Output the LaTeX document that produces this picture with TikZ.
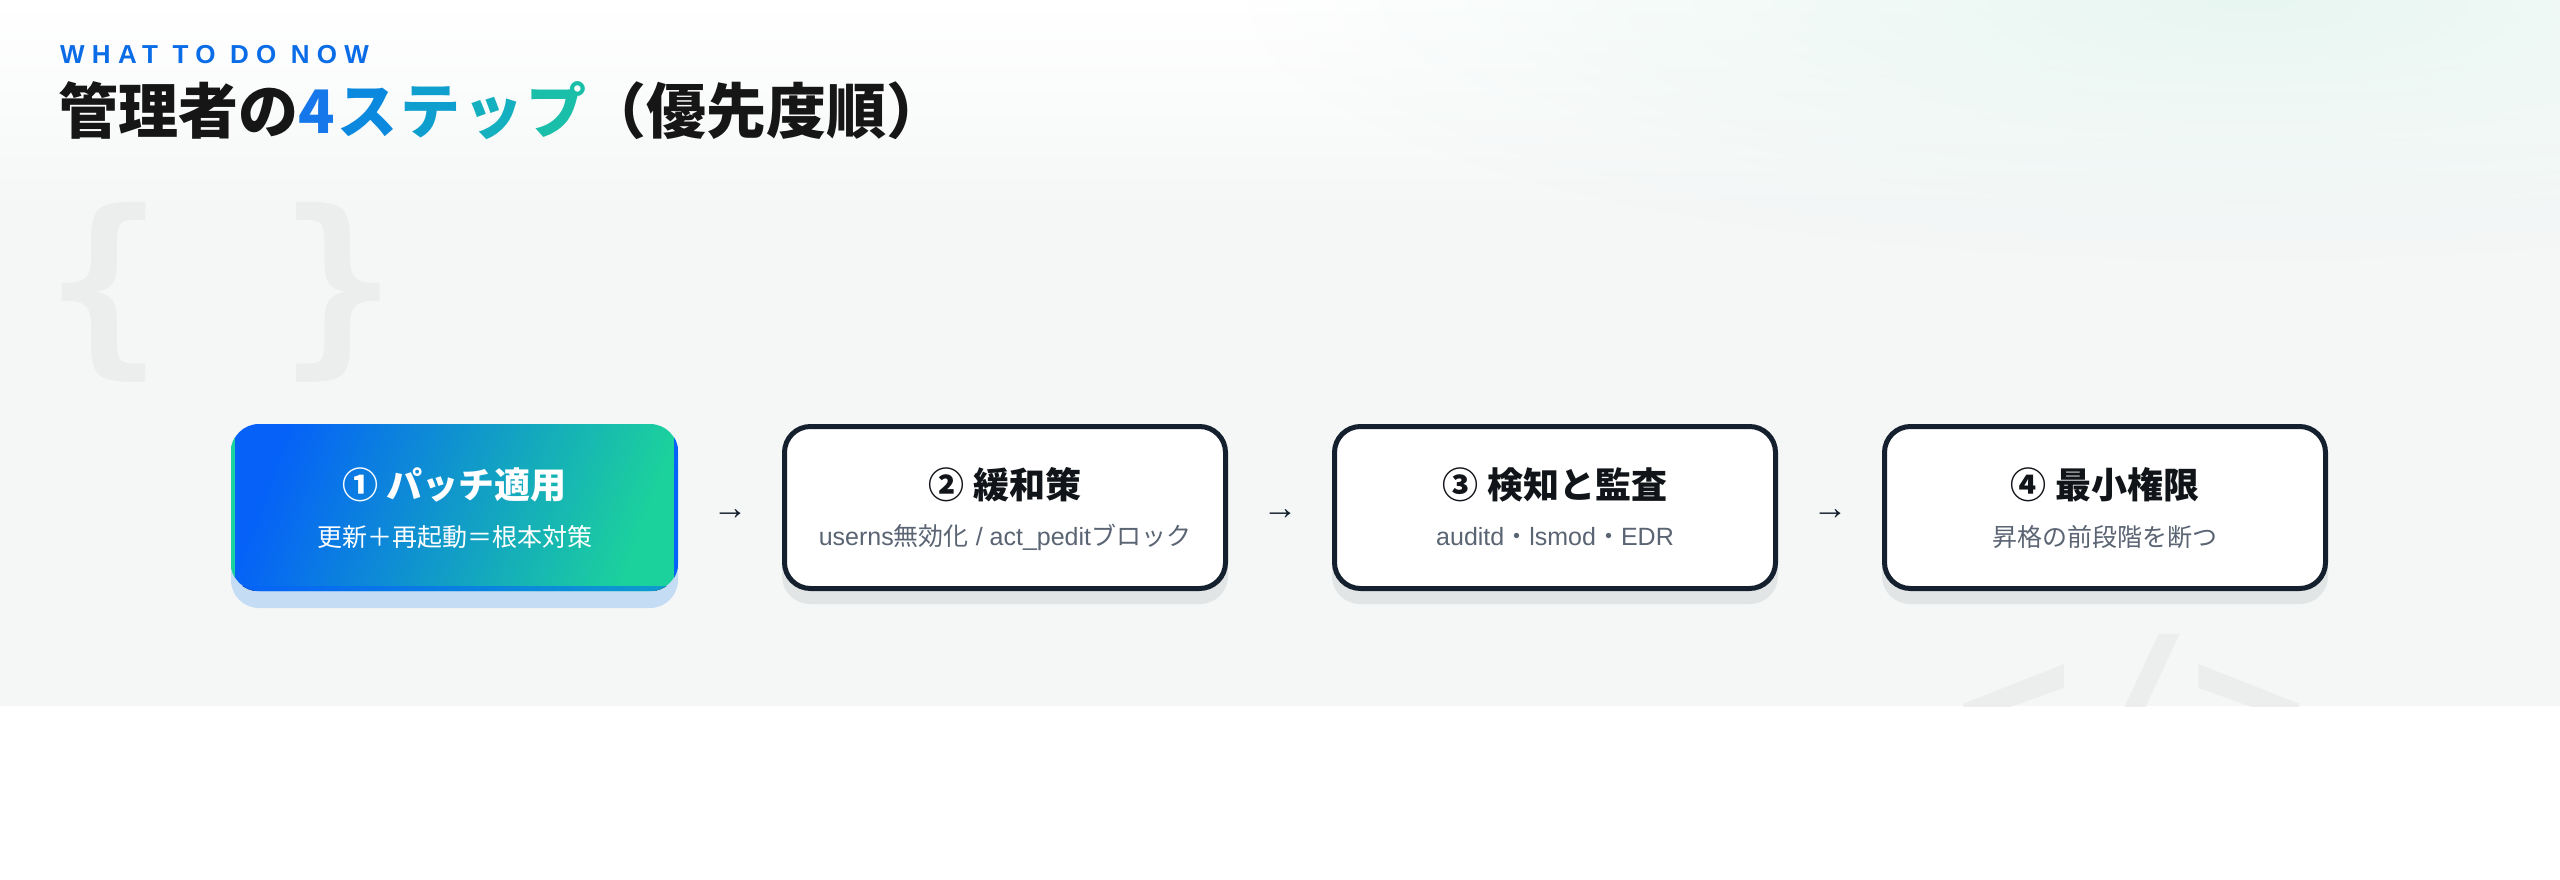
\documentclass[tikz,border=0pt]{standalone}
\usepackage{fontspec}
\setmainfont{Liberation Sans}
\newfontfamily\jp{Noto Sans CJK JP}
\newfontfamily\lat{Liberation Sans}
\newfontfamily\wmfont{DejaVu Sans Mono}
\usetikzlibrary{fadings,calc}
\tikzfading[name=softfade, inner color=transparent!0, outer color=transparent!100]
\definecolor{ink}{HTML}{15202E}
\definecolor{ttlink}{HTML}{111418}
\definecolor{sub}{HTML}{5A6473}
\definecolor{gA}{HTML}{0561F8}
\definecolor{gM}{HTML}{0E9DCB}
\definecolor{gB}{HTML}{1CD29C}
\definecolor{shBlue}{HTML}{C5DCF5}
\definecolor{shGray}{HTML}{E1E5E6}
\definecolor{bgG}{HTML}{F5F7F7}
\definecolor{tint}{HTML}{E8F6F1}
\definecolor{wmc}{HTML}{ECEEEE}
\definecolor{wtd}{HTML}{0A6CE6}
\definecolor{hd}{HTML}{161616}
\definecolor{tFour}{HTML}{1677EA}
\definecolor{tS}{HTML}{0A89DE}
\definecolor{tT}{HTML}{0E9FCF}
\definecolor{tX}{HTML}{14B0BF}
\definecolor{tP}{HTML}{1ABFA9}
\begin{document}
\begin{tikzpicture}[x=1pt,y=-1pt,
  stepbox/.style={draw=ink, line width=5pt, fill=white, rounded corners=26pt, minimum width=441pt, minimum height=162pt, inner sep=0pt},
  hotbox/.style={rounded corners=28pt, minimum width=447pt, minimum height=167pt, inner sep=0pt, left color=gA, middle color=gM, right color=gB, shading angle=70},
  ttl/.style={font={\jp\bfseries\fontsize{36pt}{42pt}\selectfont}, text=ttlink, inner sep=0pt},
  subt/.style={font={\jp\fontsize{25pt}{30pt}\selectfont}, text=sub, inner sep=0pt},
  arr/.style={font={\lat\fontsize{35pt}{38pt}\selectfont}, text=ink, inner sep=0pt},
  wm/.style={font={\wmfont\bfseries\fontsize{195pt}{200pt}\selectfont}, text=wmc, inner sep=0pt}]

\useasboundingbox (0,0) rectangle (2560,880);
\fill[white] (0,0) rectangle (2560,880);
\fill[bgG] (0,0) rectangle (2560,706);
\fill[top color=white, bottom color=bgG] (0,0) rectangle (2560,210);
\fill[tint, path fading=softfade] (2250,0) ellipse [x radius=1000, y radius=260];

% watermarks
\node[wm, anchor=base west] (wmbrace) at (45,350) {\{ \}};
\begin{scope}
  \clip (0,0) rectangle (2560,706);
  \node[wm, anchor=base] (wmcode) at (2132,776) {</>};
\end{scope}

% heading
\node[anchor=base west, inner sep=0pt, text=wtd, font={\lat\bfseries\fontsize{26pt}{30pt}\selectfont\addfontfeature{LetterSpace=28}}] (kicker) at (60,64) {WHAT TO DO NOW};
\node[anchor=base west, inner sep=0pt, text=hd, font={\jp\bfseries\fontsize{60pt}{70pt}\selectfont}] (title) at (58,134)
  {管理者の\textcolor{tFour}{4}\hspace{3pt}\textcolor{tS}{ス}\hspace{3pt}\textcolor{tT}{テ}\hspace{3pt}\textcolor{tX}{ッ}\hspace{3pt}\textcolor{tP}{プ}（優先度順）};

% step 1 (highlighted)
\fill[shBlue, rounded corners=28pt] (231,441) rectangle (678,608);
\node[hotbox] (s1) at (454.5,507.5) {};
\begin{scope}
  \clip[rounded corners=28pt] (s1.south west) rectangle (s1.north east);
  \fill[gB] (s1.north west) rectangle ([xshift=4pt]s1.south west);
  \fill[gA] ([xshift=-4pt]s1.north east) rectangle (s1.south east);
  \fill[left color=gA, right color=gM] ([yshift=5pt]s1.south west) rectangle (s1.south east);
\end{scope}
\node[ttl, text=white] (s1t) at (454.5,485) {① パッチ適用};
\node[subt, text=white] (s1s) at (454.5,537) {更新＋再起動＝根本対策};

% step 2
\fill[shGray, rounded corners=28pt] (782,437) rectangle (1228,604);
\node[stepbox] (s2) at (1005,507.5) {};
\node[ttl] (s2t) at (1005,485) {② 緩和策};
\node[subt] (s2s) at (1005,537) {{\lat userns}無効化{\lat{} / act\_pedit}ブロック};

% step 3
\fill[shGray, rounded corners=28pt] (1332,437) rectangle (1778,604);
\node[stepbox] (s3) at (1555,507.5) {};
\node[ttl] (s3t) at (1555,485) {③ 検知と監査};
\node[subt] (s3s) at (1555,537) {{\lat auditd}・{\lat lsmod}・{\lat EDR}};

% step 4
\fill[shGray, rounded corners=28pt] (1882,437) rectangle (2328,604);
\node[stepbox] (s4) at (2105,507.5) {};
\node[ttl] (s4t) at (2105,485) {④ 最小権限};
\node[subt] (s4s) at (2105,537) {昇格の前段階を断つ};

% arrows between steps
\node[arr] (a12) at ($(s1.east)!0.5!(s2.west)+(0,7)$) {→};
\node[arr] (a23) at ($(s2.east)!0.5!(s3.west)+(0,7)$) {→};
\node[arr] (a34) at ($(s3.east)!0.5!(s4.west)+(0,7)$) {→};
\end{tikzpicture}
\end{document}
